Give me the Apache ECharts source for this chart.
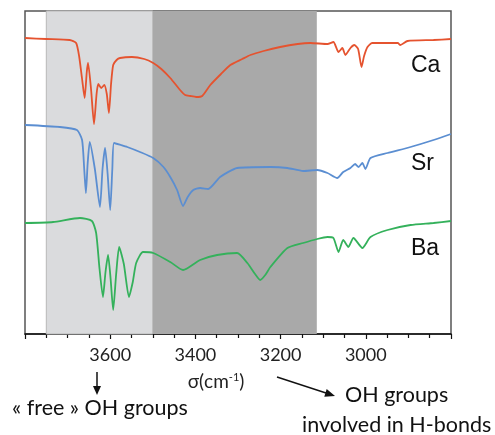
<!DOCTYPE html>
<html><head><meta charset="utf-8">
<script src="https://cdn.jsdelivr.net/npm/echarts@6/dist/echarts.min.js"></script>
<style>html,body{margin:0;padding:0;background:#fff}#c{width:495px;height:435px}</style>
</head><body><div id="c"></div>
<script>
// wavenumber (cm-1) and transmittance (arbitrary units)
const caX = [3800,3750,3695,3680,3673,3666,3660,3655,3652,3645,3638,3632,3628,3621,3614,3608,3603,3598,3593,3585,3577,3549,3520,3499,3480,3459,3436,3424,3412,3398,3384,3365,3340,3318,3290,3271,3240,3201,3160,3130,3090,3076,3064,3055,3048,3036,3027,3018,3010,3004,2996,2985,2925,2919,2902,2841,2800];
const caY = [296,295,294,291,278,255,236,262,271,245,210,240,250,246,249,240,221,250,269,274,276,277,275,271,265,256,244,239,238,237,238,249,260,269,275,279,283,287,290,291,290,292,282,286,279,286,289,285,267,278,287,291,291,289,293,294,295];
const srX = [3800,3718,3678,3666,3661,3657,3653,3648,3636,3624,3618,3612,3606,3600,3595,3591,3575,3560,3530,3499,3475,3459,3443,3429,3418,3405,3389,3370,3342,3302,3224,3184,3147,3114,3090,3067,3053,3036,3025,3017,3008,3001,2989,2949,2895,2841,2800];
const srY = [209,207,204,194,165,141,170,192,165,127,165,186,160,124,165,191,189,187,182,176,167,157,144,128,137,144,146,145,157,166,167,166,163,164,161,156,162,166,170,167,171,165,176,181,187,194,200];
const baX = [3800,3734,3671,3643,3633,3625,3617,3611,3605,3599,3593,3586,3579,3568,3556,3547,3539,3523,3499,3459,3429,3389,3349,3302,3278,3260,3248,3236,3224,3184,3147,3114,3090,3076,3064,3053,3041,3029,3008,2989,2949,2895,2841,2800];
const baY = [111,112,116,113,101,65,37,62,79,55,24,60,87,70,37,52,71,82,81,72,64,74,79,81,71,60,54,59,67,86,91,95,97,96,82,94,87,96,86,97,104,109,111,113];
const seriesNames = ['Ca','Sr','Ba'];
const tickLabels = [3000,3200,3400,3600];
const freeBand = [3750,3500];
const hbondBand = [3500,3115];

const zip = (xs, ys) => xs.map((x,i)=>[x, ys[i]]);
const colors = ['#e5532f','#5b8ed1','#34b15b'];
const chart = echarts.init(document.getElementById('c'));
const mkSeries = (name, data, color, extra) => Object.assign({
  name, type:'line', data, showSymbol:false, smooth:0.2,
  lineStyle:{color, width:1.8}, itemStyle:{color}, z:5
}, extra||{});
const lbl = 'Liberation Sans, Arial, sans-serif';
const ann = 'Lato, Liberation Sans, sans-serif';

chart.setOption({
  animation:false,
  grid:{left:25, right:44, top:11, bottom:101, show:true, borderColor:'#555', borderWidth:1.5, backgroundColor:'#fff'},
  xAxis:{type:'value', min:2800, max:3800, interval:200, inverse:true,
    axisLine:{show:true, onZero:false, lineStyle:{color:'#111', width:1.5}},
    axisTick:{show:true, length:5, lineStyle:{color:'#111', width:1.2}},
    minorTick:{show:true, splitNumber:4, length:4, lineStyle:{color:'#111', width:1.2}},
    splitLine:{show:false},
    axisLabel:{margin:12, fontSize:18, color:'#222', fontFamily:ann,
      formatter:v => tickLabels.indexOf(v) >= 0 ? String(v) : ''}
  },
  yAxis:{type:'value', min:0, max:323, show:false},
  series:[
    mkSeries(seriesNames[0], zip(caX,caY), colors[0], {
      markArea:{silent:true, z:1, data:[
        [{xAxis:freeBand[0], itemStyle:{color:'#dadbdd', borderColor:'#b8b8b8', borderWidth:1}},{xAxis:freeBand[1]}],
        [{xAxis:hbondBand[0], itemStyle:{color:'#a9a9a9'}},{xAxis:hbondBand[1]}]
      ]}
    }),
    mkSeries(seriesNames[1], zip(srX,srY), colors[1]),
    mkSeries(seriesNames[2], zip(baX,baY), colors[2])
  ],
  graphic:[
    {type:'text', left:411, top:54, style:{text:seriesNames[0], fontSize:23, fill:'#111', fontFamily:lbl}},
    {type:'text', left:411, top:152, style:{text:seriesNames[1], fontSize:23, fill:'#111', fontFamily:lbl}},
    {type:'text', left:411, top:237, style:{text:seriesNames[2], fontSize:23, fill:'#111', fontFamily:lbl}},
    {type:'text', x:216, y:382, style:{
      text:'{a|σ(cm}{s|-1}{a|)}', align:'center', verticalAlign:'middle',
      rich:{a:{fontSize:19, fill:'#222', fontFamily:ann},
            s:{fontSize:11, fill:'#222', fontFamily:ann, verticalAlign:'top', padding:[0,0,9,0]}}
    }},
    {type:'line', shape:{x1:97, y1:372, x2:97, y2:387}, style:{stroke:'#111', lineWidth:1.5}},
    {type:'polygon', shape:{points:[[93,386],[101,386],[97,395]]}, style:{fill:'#111'}},
    {type:'line', shape:{x1:277, y1:377, x2:326, y2:393}, style:{stroke:'#111', lineWidth:1.5}},
    {type:'polygon', shape:{points:[[335,396],[324.3,396.7],[326.7,389.1]]}, style:{fill:'#111'}},
    {type:'text', left:12, top:397, style:{text:'« free » OH groups', fontSize:21.5, fill:'#111', fontFamily:ann}},
    {type:'text', left:345, top:384, style:{text:'OH groups', fontSize:21.5, fill:'#111', fontFamily:ann}},
    {type:'text', left:302, top:414, style:{text:'involved in H-bonds', fontSize:21.5, fill:'#111', fontFamily:ann}}
  ]
});
</script></body></html>
